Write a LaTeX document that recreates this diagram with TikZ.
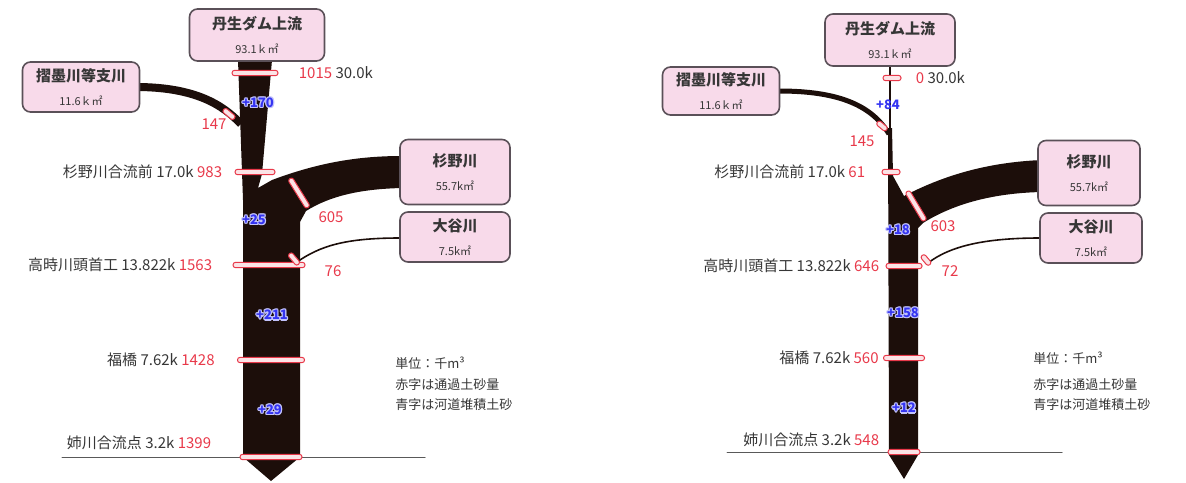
\documentclass[tikz,border=0pt]{standalone}
\usepackage{fontspec}
\setmainfont{Noto Sans CJK JP}
\usetikzlibrary{arrows.meta,positioning,calc,shapes.geometric}

\definecolor{sedred}{HTML}{E8394A}
\definecolor{sedblue}{HTML}{3434F2}
\definecolor{gaugefill}{HTML}{FBE3E6}
\definecolor{boxpink}{HTML}{F8DAEA}
\definecolor{boxline}{HTML}{5A5058}
\definecolor{riverbk}{HTML}{1C0E0A}
\definecolor{txtgray}{HTML}{363636}

\newcommand{\depotag}[3]{%
  \foreach \ang in {0,45,...,315}
    \node[depo, text=white!70!sedblue] (#1-\ang) at ($(#2)+(\ang:0.6pt)$) {#3};
  \node[depo] (#1) at (#2) {#3};}

\begin{document}
\begin{tikzpicture}[x=0.5pt, y=-0.5pt, line cap=round, line join=round,
  basin/.style={draw=boxline, fill=boxpink, rounded corners=4pt, line width=0.8pt,
    align=center, inner sep=1pt, text=txtgray},
  gauge/.style={draw=sedred, fill=gaugefill, line width=0.5pt, rounded corners=1.2pt,
    minimum height=2.6pt, inner sep=0pt, minimum width=#1},
  spot/.style={text=txtgray, font=\fontsize{7.5}{9}\selectfont, inner sep=0pt},
  flux/.style={text=sedred, font=\fontsize{7.5}{9}\selectfont, inner sep=0pt},
  depo/.style={text=sedblue, font=\bfseries\fontsize{6.5}{8}\selectfont, inner sep=0pt},
  note/.style={text=txtgray, font=\fontsize{6.5}{8}\selectfont, inner sep=0pt, anchor=west},
  title/.style={font=\bfseries\fontsize{7.5}{9}\selectfont},
  area/.style={font=\fontsize{5.5}{7}\selectfont}]

\useasboundingbox (0,0) rectangle (1186,482);

% left
\draw[gray!70!black, line width=0.5pt] (62,457) -- (425,457);
\fill[riverbk] (238,60) -- (272,60) -- (262,174) -- (258,188) -- (272,180)
  .. controls (320,162) and (360,156) .. (402,156) -- (402,188)
  .. controls (360,189) and (330,196) .. (306,211) -- (300,222) -- (300,457)
  -- (271,481) -- (243,457) -- (243,200) -- cycle;
\coordinate (sumiIn) at (241,124);
\coordinate (otaniIn) at (297,262);
\draw[riverbk, line width=4pt, line cap=butt] (81,87) -- (140,87)
  .. controls (195,88) and (222,104) .. (sumiIn);
\draw[riverbk, line width=0.8pt] (455,238) -- (400,238)
  .. controls (345,238) and (320,246) .. (otaniIn);

\node[basin, minimum width=67.5pt, minimum height=26pt] (nyu) at (257,35)
  {{\bfseries\fontsize{7.5}{9}\selectfont 丹生ダム上流}\\[0pt]{\fontsize{5.5}{7}\selectfont 93.1ｋ㎡}};
\node[basin, minimum width=58.5pt, minimum height=25pt] (sumi) at (81,87)
  {{\bfseries\fontsize{7.5}{9}\selectfont 摺墨川等支川}\\[0pt]{\fontsize{5.5}{7}\selectfont 11.6ｋ㎡}};
\node[basin, minimum width=55pt, minimum height=32.5pt] (sugino) at (455,172)
  {{\bfseries\fontsize{7.5}{9}\selectfont 杉野川}\\[0pt]{\fontsize{5.5}{7}\selectfont 55.7k㎡}};
\node[basin, minimum width=55pt, minimum height=25pt] (otani) at (455,237)
  {{\bfseries\fontsize{7.5}{9}\selectfont 大谷川}\\[0pt]{\fontsize{5.5}{7}\selectfont 7.5k㎡}};

\node[gauge=23pt] (g30) at (255,73) {};
\node[gauge=20pt] (g17) at (255,172) {};
\node[gauge=36pt] (g13) at (269,265) {};
\node[gauge=33.5pt] (g7) at (271,360) {};
\node[gauge=31pt] (g3) at (271,457) {};
\node[gauge=17pt, rotate=-58] (gsug) at (299,193) {};
\node[gauge=7pt, rotate=-40] (gsumi) at (229,114) {};
\node[gauge=7pt, rotate=-50] (gota) at (294,259) {};

\node[spot, right=10pt of g30] (k30) {{\color{sedred}1015} 30.0k};
\node[spot, left=6pt of g17] (k17) {杉野川合流前 17.0k {\color{sedred}983}};
\node[spot, left=10pt of g13] (k13) {高時川頭首工 13.822k {\color{sedred}1563}};
\node[spot, left=11pt of g7] (k7) {福橋 7.62k {\color{sedred}1428}};
\node[spot, anchor=east] (k3) at ($(g3.west)+(-28,-14)$) {姉川合流点 3.2k {\color{sedred}1399}};
\node[flux] (fsug) at (331,217) {605};
\node[flux] (fsumi) at (214,124) {147};
\node[flux] (fota) at (333,271) {76};

\depotag{d1}{258,103}{+170}
\depotag{d2}{254,220}{+25}
\depotag{d3}{272,315}{+211}
\depotag{d4}{270,410}{+29}

\node[note] (unitL) at (395,363) {単位：千m³};
\node[note] (redL) at (395,385) {赤字は通過土砂量};
\node[note] (blueL) at (395,405) {青字は河道堆積土砂};

% right
\draw[gray!70!black, line width=0.5pt] (727,452) -- (1062,452);
\draw[riverbk, line width=1pt] (890,60) -- (890,132);
\fill[riverbk] (888,128) -- (892,128) -- (893,176) -- (904,196)
  .. controls (950,172) and (995,162) .. (1042,160) -- (1042,192)
  .. controls (995,193) and (955,203) .. (923,223) -- (918,228) -- (918,455)
  -- (904,479) -- (889,455) -- cycle;
\coordinate (sumiInR) at (889,134);
\coordinate (otaniInR) at (928,263);
\draw[riverbk, line width=2.5pt, line cap=butt] (721,91) -- (779,91)
  .. controls (840,91) and (872,106) .. (sumiInR);
\draw[riverbk, line width=0.8pt] (1091,238) -- (1040,238)
  .. controls (985,238) and (950,246) .. (otaniInR);

\node[basin, minimum width=65pt, minimum height=26pt] (nyuR) at (890,40)
  {{\bfseries\fontsize{7.5}{9}\selectfont 丹生ダム上流}\\[0pt]{\fontsize{5.5}{7}\selectfont 93.1ｋ㎡}};
\node[basin, minimum width=58.5pt, minimum height=24pt] (sumiR) at (721,91)
  {{\bfseries\fontsize{7.5}{9}\selectfont 摺墨川等支川}\\[0pt]{\fontsize{5.5}{7}\selectfont 11.6ｋ㎡}};
\node[basin, minimum width=51pt, minimum height=32.5pt] (suginoR) at (1089,173)
  {{\bfseries\fontsize{7.5}{9}\selectfont 杉野川}\\[0pt]{\fontsize{5.5}{7}\selectfont 55.7k㎡}};
\node[basin, minimum width=51pt, minimum height=25pt] (otaniR) at (1091,238)
  {{\bfseries\fontsize{7.5}{9}\selectfont 大谷川}\\[0pt]{\fontsize{5.5}{7}\selectfont 7.5k㎡}};

\node[gauge=9pt] (h30) at (892,78) {};
\node[gauge=9pt] (h17) at (891,172) {};
\node[gauge=18pt] (h13) at (904,266) {};
\node[gauge=20.5pt] (h7) at (904,358) {};
\node[gauge=16pt] (h3) at (904,452) {};
\node[gauge=17pt, rotate=-59] (hsug) at (916,206) {};
\node[gauge=6pt, rotate=-40] (hsumi) at (882,126) {};
\node[gauge=6pt, rotate=-50] (hota) at (926,260) {};

\node[spot, right=7pt of h30] (m30) {{\color{sedred}0} 30.0k};
\node[spot, left=8pt of h17] (m17) {杉野川合流前 17.0k {\color{sedred}61}};
\node[spot, left=3pt of h13] (m13) {高時川頭首工 13.822k {\color{sedred}646}};
\node[spot, left=2pt of h7] (m7) {福橋 7.62k {\color{sedred}560}};
\node[spot, anchor=east] (m3) at ($(h3.west)+(-8,-12)$) {姉川合流点 3.2k {\color{sedred}548}};
\node[flux] (esug) at (943,226) {603};
\node[flux] (esumi) at (862,141) {145};
\node[flux] (eota) at (950,271) {72};

\node[depo] (e1) at (888,105) {+84};
\depotag{e2}{898,230}{+18}
\depotag{e3}{903,313}{+158}
\depotag{e4}{904,408}{+12}

\node[note] (unitR) at (1033,358) {単位：千m³};
\node[note] (redR) at (1033,385) {赤字は通過土砂量};
\node[note] (blueR) at (1033,405) {青字は河道堆積土砂};

\end{tikzpicture}
\end{document}
